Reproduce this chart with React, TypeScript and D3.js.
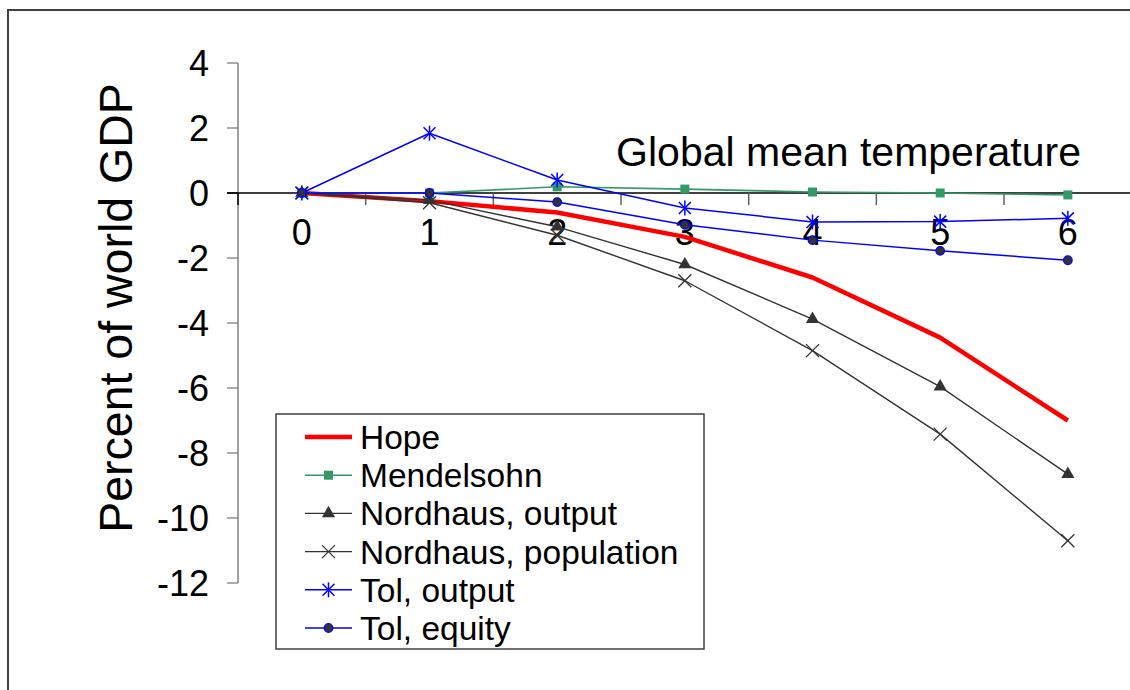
import React from "react";
import * as d3 from "d3";

const categories = ["0", "1", "2", "3", "4", "5", "6"];
const hope = [0, -0.25, -0.6, -1.35, -2.6, -4.45, -7.0];
const mendelsohn = [0, 0.0, 0.19, 0.12, 0.03, 0.0, -0.06];
const nordhausOutput = [0, -0.22, -1.04, -2.2, -3.88, -5.96, -8.65];
const nordhausPopulation = [0, -0.3, -1.3, -2.7, -4.85, -7.42, -10.7];
const tolOutput = [0, 1.84, 0.4, -0.46, -0.89, -0.88, -0.78];
const tolEquity = [0, 0.0, -0.28, -0.98, -1.45, -1.78, -2.07];
const yTicks = [4, 2, 0, -2, -4, -6, -8, -10, -12];
const legendLabels = [
  "Hope",
  "Mendelsohn",
  "Nordhaus, output",
  "Nordhaus, population",
  "Tol, output",
  "Tol, equity",
];

const FONT = "'Liberation Sans', Arial, sans-serif";
const BLUE = "#0000FF";
const GREEN = "#339966";
const DARK = "#333333";
const RED = "#FF0000";

type MarkerKind = "none" | "square" | "triangle" | "x" | "star" | "circle";

function Marker({ kind, cx, cy, color }: { kind: MarkerKind; cx: number; cy: number; color: string }) {
  if (kind === "square") {
    return <rect x={cx - 4.5} y={cy - 4.5} width={9} height={9} fill={color} />;
  }
  if (kind === "triangle") {
    const p = d3.symbol().type(d3.symbolTriangle).size(75)();
    return <path d={p || ""} transform={`translate(${cx},${cy})`} fill={DARK} />;
  }
  if (kind === "x") {
    const s = 6.5;
    return (
      <g stroke={DARK} strokeWidth={1.3}>
        <line x1={cx - s} y1={cy - s} x2={cx + s} y2={cy + s} />
        <line x1={cx - s} y1={cy + s} x2={cx + s} y2={cy - s} />
      </g>
    );
  }
  if (kind === "star") {
    const s = 6;
    return (
      <g stroke={BLUE} strokeWidth={1.5}>
        <line x1={cx - s} y1={cy - s} x2={cx + s} y2={cy + s} />
        <line x1={cx - s} y1={cy + s} x2={cx + s} y2={cy - s} />
        <line x1={cx} y1={cy - s - 1.5} x2={cx} y2={cy + s + 1.5} />
      </g>
    );
  }
  if (kind === "circle") {
    return <circle cx={cx} cy={cy} r={4.3} fill={DARK} stroke={BLUE} strokeWidth={1.2} />;
  }
  return null;
}

export default function App() {
  const W = 1130;
  const H = 690;
  const band = 127.67;
  const x = d3
    .scaleBand<string>()
    .domain(categories)
    .range([238, 238 + band * categories.length]);
  const y = d3.scaleLinear().domain([-12, 4]).range([583, 63]);
  const cx = (i: number) => (x(categories[i]) as number) + x.bandwidth() / 2;

  const series = [
    { name: legendLabels[0], values: hope, color: RED, width: 4.5, marker: "none" as MarkerKind },
    { name: legendLabels[1], values: mendelsohn, color: GREEN, width: 1.6, marker: "square" as MarkerKind },
    { name: legendLabels[2], values: nordhausOutput, color: DARK, width: 1.4, marker: "triangle" as MarkerKind },
    { name: legendLabels[3], values: nordhausPopulation, color: DARK, width: 1.4, marker: "x" as MarkerKind },
    { name: legendLabels[4], values: tolOutput, color: BLUE, width: 1.5, marker: "star" as MarkerKind },
    { name: legendLabels[5], values: tolEquity, color: BLUE, width: 1.5, marker: "circle" as MarkerKind },
  ];

  const line = d3
    .line<number>()
    .x((_, i) => cx(i))
    .y((d) => y(d));

  const boundaries = [...categories.map((c) => x(c) as number), x.range()[1]];

  const legendX = 276;
  const legendY = 414;
  const legendW = 428;
  const legendH = 235;
  const rowY = (i: number) => 437 + i * 38.2;

  return (
    <svg
      width={W}
      height={H}
      style={{ position: "absolute", left: 0, top: 0, background: "#fff" }}
      fontFamily={FONT}
    >
      <rect x={0} y={0} width={W} height={H} fill="#fff" />
      <rect x={8} y={10} width={1400} height={1000} fill="none" stroke="#404040" strokeWidth={2} />

      {/* y axis */}
      <line x1={238} y1={y(4)} x2={238} y2={y(-12)} stroke="#808080" strokeWidth={1.5} />
      {yTicks.map((t) => (
        <g key={t}>
          <line x1={227} y1={y(t)} x2={238} y2={y(t)} stroke={t === 0 ? "#000" : "#808080"} strokeWidth={1.3} />
          <text x={209} y={y(t)} dy="0.36em" textAnchor="end" fontSize={36} fill="#000">
            {t}
          </text>
        </g>
      ))}

      {/* x axis */}
      <line x1={227} y1={y(0)} x2={W} y2={y(0)} stroke="#000" strokeWidth={1.3} />
      {boundaries.map((b, i) => (
        <line key={i} x1={b} y1={y(0)} x2={b} y2={y(0) + 12} stroke={i === 0 ? "#000" : "#606060"} strokeWidth={1.5} />
      ))}
      {categories.map((c, i) => (
        <text key={c} x={cx(i)} y={y(0) + 52} dy="0" textAnchor="middle" fontSize={36} fill="#000">
          {c}
        </text>
      ))}

      <text x={1081} y={166} textAnchor="end" fontSize={41} fill="#000">
        Global mean temperature
      </text>
      <text
        transform={`translate(${132},${308}) rotate(-90)`}
        textAnchor="middle"
        fontSize={46.5}
        fill="#000"
      >
        Percent of world GDP
      </text>

      {/* series */}
      {series.map((s) => (
        <g key={s.name}>
          <path d={line(s.values) || ""} fill="none" stroke={s.color} strokeWidth={s.width} strokeLinejoin="round" />
          {s.values.map((v, i) => (
            <Marker key={i} kind={s.marker} cx={cx(i)} cy={y(v)} color={s.color} />
          ))}
        </g>
      ))}

      {/* legend */}
      <rect x={legendX} y={legendY} width={legendW} height={legendH} fill="#fff" stroke="#404040" strokeWidth={1.5} />
      {series.map((s, i) => (
        <g key={s.name}>
          <line x1={305} y1={rowY(i)} x2={352} y2={rowY(i)} stroke={s.color} strokeWidth={s.width} />
          <Marker kind={s.marker} cx={328.5} cy={rowY(i)} color={s.color} />
          <text x={360} y={rowY(i)} dy="0.36em" fontSize={33.5} fill="#000">
            {s.name}
          </text>
        </g>
      ))}
    </svg>
  );
}
